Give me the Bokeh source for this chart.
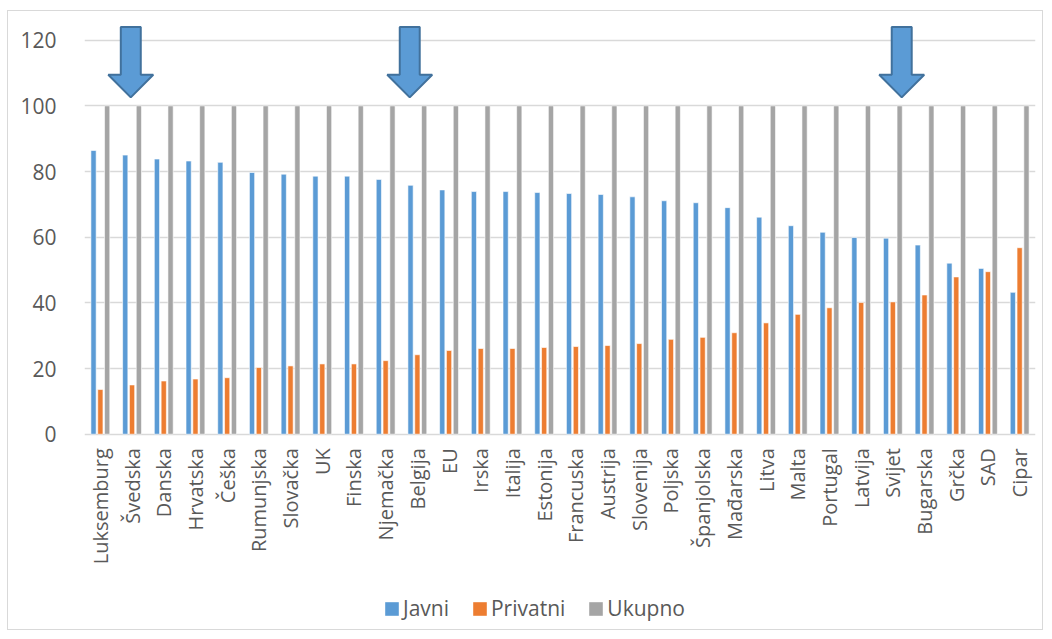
from bokeh.plotting import figure
from bokeh.models import ColumnDataSource, FixedTicker, Range1d, Legend, LegendItem
from bokeh.embed import file_html
from bokeh.resources import INLINE
import numpy as np
import math

countries = ["Luksemburg", "Švedska", "Danska", "Hrvatska", "Češka", "Rumunjska", "Slovačka",
             "UK", "Finska", "Njemačka", "Belgija", "EU", "Irska", "Italija", "Estonija",
             "Francuska", "Austrija", "Slovenija", "Poljska", "Španjolska", "Mađarska", "Litva",
             "Malta", "Portugal", "Latvija", "Svijet", "Bugarska", "Grčka", "SAD", "Cipar"]
javni = [86.4, 85.0, 83.8, 83.2, 82.8, 79.7, 79.2, 78.6, 78.6, 77.6, 75.8, 74.4, 73.9, 73.9,
         73.6, 73.3, 73.0, 72.3, 71.1, 70.5, 69.0, 66.1, 63.5, 61.5, 59.9, 59.7, 57.6, 52.1,
         50.5, 43.2]
privatni = [13.6, 15.0, 16.2, 16.8, 17.2, 20.3, 20.8, 21.4, 21.4, 22.4, 24.2, 25.5, 26.1, 26.1,
            26.4, 26.7, 27.0, 27.6, 28.9, 29.5, 30.9, 33.9, 36.5, 38.5, 40.1, 40.3, 42.4, 47.9,
            49.5, 56.8]
ukupno = [100] * len(countries)
series = ["Javni", "Privatni", "Ukupno"]
colors = ["#5B9BD5", "#ED7D31", "#A5A5A5"]
y_ticks = [0, 20, 40, 60, 80, 100, 120]
arrow_targets = ["Švedska", "Belgija", "Svijet"]
arrow_shift = [-0.04, -0.24, 0.28]

FONT = "Open Sans"
TXT = "#595959"
GRID = "#D9D9D9"

# layout constants (pixels)
W, H = 1036, 620
BL, BR, BT, BB = 76, 9, 9, 1
PX_PER_UNIT = 394 / 120.0
Y_TOP = 126
frame_h = H - BT - BB
y_bottom = Y_TOP - frame_h / PX_PER_UNIT

xc = [i + 0.5 for i in range(len(countries))]
src = ColumnDataSource(dict(
    x_j=[x - 0.215 for x in xc], x_p=[x for x in xc], x_u=[x + 0.215 for x in xc],
    javni=javni, privatni=privatni, ukupno=ukupno))

p = figure(width=W, height=H, output_backend="svg", toolbar_location=None,
           x_range=Range1d(0, len(countries)), y_range=Range1d(y_bottom, Y_TOP),
           min_border_left=BL, min_border_right=BR, min_border_top=BT, min_border_bottom=BB)
p.styles = {"border": "1px solid #D9D9D9", "margin-left": "7px", "margin-top": "10px"}
p.outline_line_color = None
p.background_fill_color = "white"
p.border_fill_color = "white"

bw = 0.165
p.vbar(x="x_j", top="javni", width=bw, source=src, fill_color=colors[0], line_color="white", line_width=0.6)
p.vbar(x="x_p", top="privatni", width=bw, source=src, fill_color=colors[1], line_color="white", line_width=0.6)
p.vbar(x="x_u", top="ukupno", width=bw, source=src, fill_color=colors[2], line_color="white", line_width=0.6)

# legend swatches: quads with NaN geometry (never drawn in the plot) so the legend shows full squares
nan_src = ColumnDataSource(dict(l=np.array([np.nan]), r=np.array([np.nan]),
                                t=np.array([np.nan]), b=np.array([np.nan])))
swatches = []
for col in colors:
    swatches.append(p.quad(left="l", right="r", top="t", bottom="b", source=nan_src,
                           fill_color=col, line_color=None))

# arrows
xs, ys = [], []
for name, sh in zip(arrow_targets, arrow_shift):
    c = countries.index(name) + 0.5 + sh
    sw, hw = 0.315, 0.71
    top, neck, tip = 124.0, 109.5, 102.6
    xs.append([c - sw, c + sw, c + sw, c + hw, c, c - hw, c - sw])
    ys.append([top, top, neck, neck, tip, neck, neck])
p.patches(xs, ys, fill_color="#5B9BD5", line_color="#41719C", line_width=2)

# axes
p.yaxis.ticker = FixedTicker(ticks=y_ticks)
p.yaxis.axis_line_color = None
p.yaxis.major_tick_line_color = None
p.yaxis.minor_tick_line_color = None
p.yaxis.major_label_standoff = 22
p.yaxis.major_label_text_font = FONT
p.yaxis.major_label_text_font_size = "21px"
p.yaxis.major_label_text_color = TXT

p.xaxis.fixed_location = 0
p.xaxis.ticker = FixedTicker(ticks=xc)
p.xaxis.major_label_overrides = {x: c for x, c in zip(xc, countries)}
p.xaxis.major_label_orientation = math.pi / 2
p.xaxis.axis_line_color = None
p.xaxis.major_tick_line_color = None
p.xaxis.minor_tick_line_color = None
p.xaxis.major_label_standoff = 8
p.xaxis.major_label_text_font = FONT
p.xaxis.major_label_text_font_size = "20px"
p.xaxis.major_label_text_color = TXT

p.xgrid.grid_line_color = None
p.ygrid.ticker = FixedTicker(ticks=y_ticks)
p.ygrid.grid_line_color = GRID
p.ygrid.grid_line_width = 1.5

legend = Legend(items=[LegendItem(label=s, renderers=[r], index=0) for s, r in zip(series, swatches)],
                orientation="horizontal", location=(299, 8),
                label_text_font=FONT, label_text_font_size="21px", label_text_color=TXT,
                glyph_width=17, glyph_height=17, spacing=22, label_standoff=3,
                border_line_color=None, background_fill_alpha=0, margin=0, padding=4)
p.add_layout(legend, "center")

open("out.html", "w").write(file_html(p, INLINE))
